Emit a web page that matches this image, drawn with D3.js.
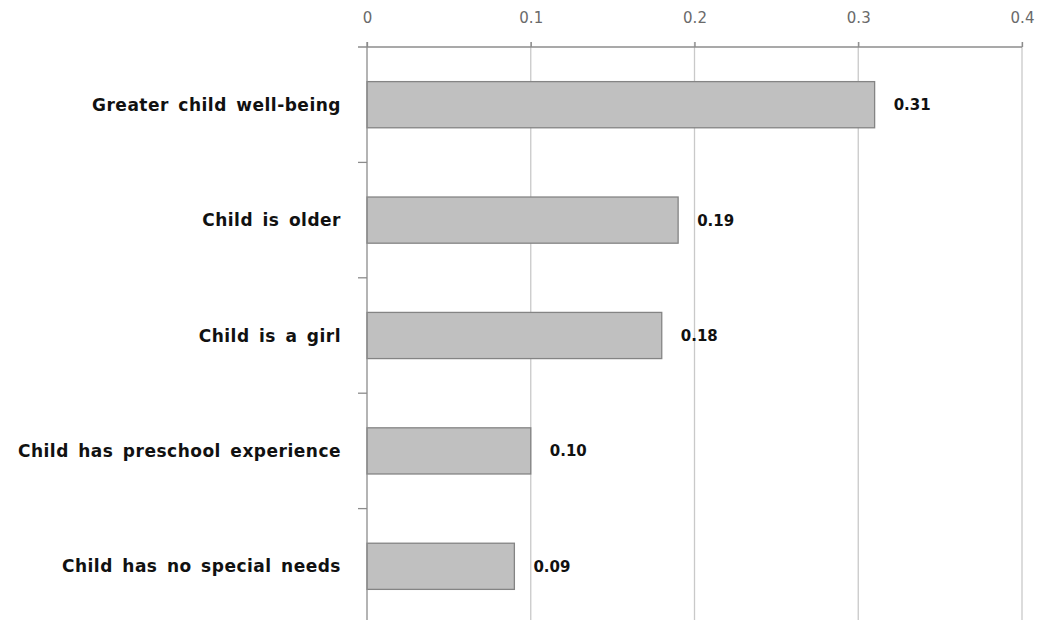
<!DOCTYPE html>
<html><head><meta charset="utf-8">
<script src="https://cdn.jsdelivr.net/npm/d3@7"></script>
<style>body{margin:0;background:#fff}</style>
</head><body>
<svg id="c" width="1044" height="620"></svg>
<script>
const categories = ["Greater child well-being","Child is older","Child is a girl","Child has preschool experience","Child has no special needs"];
const values = [0.31, 0.19, 0.18, 0.10, 0.09];
const labels = ["0.31","0.19","0.18","0.10","0.09"];
const ticks = [0, 0.1, 0.2, 0.3, 0.4];

const FONT = "'Century Gothic','DejaVu Sans',sans-serif";
const svg = d3.select("#c");
const m = {left:367, right:1022, top:47, bottom:624};
const x = d3.scaleLinear().domain([0,0.4]).range([m.left, m.right]);
const y = d3.scaleBand().domain(categories).range([m.top, m.bottom]).paddingInner(0.6).paddingOuter(0.3);

// gridlines
svg.append("g").selectAll("line").data(ticks.slice(1)).join("line")
  .attr("x1", d=>x(d)).attr("x2", d=>x(d)).attr("y1", m.top-5).attr("y2", 620)
  .attr("stroke","#c9c9c9").attr("stroke-width",1.3);

// top axis
const xa = svg.append("g").attr("transform",`translate(0,${m.top})`)
  .call(d3.axisTop(x).tickValues(ticks).tickFormat(d=>d3.format("")(d)).tickSize(5).tickPadding(19));
xa.select(".domain").remove();
xa.selectAll("line").attr("stroke","#8c8c8c").attr("stroke-width",1.3);
xa.selectAll("text").attr("fill","#6a6a6a").style("font-family",FONT).style("font-size","15px");
svg.append("line").attr("x1", m.left-9).attr("x2", m.right).attr("y1", m.top).attr("y2", m.top)
  .attr("stroke","#8c8c8c").attr("stroke-width",1.3);

// bars
svg.append("g").selectAll("rect").data(values).join("rect")
  .attr("x", x(0)).attr("y", (d,i)=>y(categories[i]))
  .attr("width", d=>x(d)-x(0)).attr("height", y.bandwidth())
  .attr("fill","#c0c0c0").attr("stroke","#848484").attr("stroke-width",1.3);

// left axis
const step = y.step();
const bounds = d3.range(categories.length+1).map(i=>m.top + i*step);
svg.append("line").attr("x1", m.left).attr("x2", m.left).attr("y1", m.top-5).attr("y2", 620)
  .attr("stroke","#8c8c8c").attr("stroke-width",1.3);
svg.append("g").selectAll("line").data(bounds.slice(1)).join("line")
  .attr("x1", m.left-9).attr("x2", m.left).attr("y1", d=>d).attr("y2", d=>d)
  .attr("stroke","#8c8c8c").attr("stroke-width",1.3);

// category labels
svg.append("g").selectAll("text").data(categories).join("text")
  .attr("x", 341).attr("y", d=>y(d)+y.bandwidth()/2).attr("dy","0.36em")
  .attr("text-anchor","end").attr("fill","#111")
  .style("font-family",FONT)
  .style("font-weight","bold").style("font-size","17px").style("word-spacing","3px").style("letter-spacing","0.5px")
  .text(d=>d);

// value labels
svg.append("g").selectAll("text").data(values).join("text")
  .attr("x", d=>x(d)+19).attr("y", (d,i)=>y(categories[i])+y.bandwidth()/2).attr("dy","0.36em")
  .attr("fill","#111")
  .style("font-family",FONT)
  .style("font-weight","bold").style("font-size","15px")
  .text((d,i)=>labels[i]);
</script>
</body></html>
